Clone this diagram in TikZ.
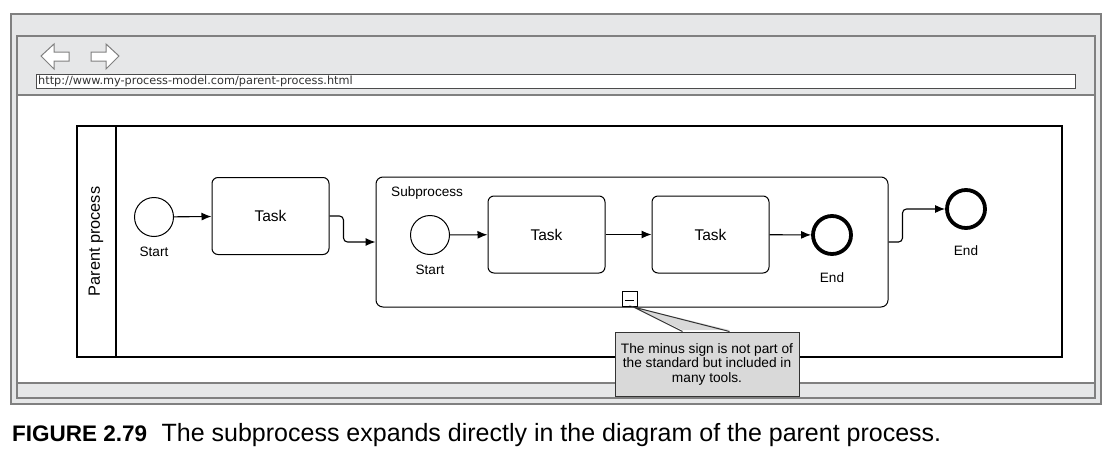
\documentclass[tikz,border=0pt]{standalone}
\usepackage{fontspec}
\setmainfont{Liberation Sans}
\newfontfamily\urlfont{DejaVu Sans}
\usetikzlibrary{positioning,arrows.meta}
\tikzset{
  >={Latex},
  flow/.style    ={line width=1.1pt, -{Latex[length=10pt,width=8pt]}, rounded corners=4pt},
  startev/.style ={circle, draw, line width=1pt, minimum size=39pt, inner sep=0pt},
  endev/.style   ={circle, draw, line width=3.8pt, minimum size=38pt, inner sep=0pt},
  taskbox/.style ={rectangle, draw, rounded corners=6pt, line width=1pt,
                   minimum width=117pt, minimum height=77pt, font=\fontsize{15.5}{17}\selectfont},
  subbox/.style  ={rectangle, draw, rounded corners=7pt, line width=1pt,
                   minimum width=512pt, minimum height=130pt},
  lbl/.style     ={font=\fontsize{13.6}{15}\selectfont, inner sep=0pt},
  frame/.style   ={draw=framegray, line width=1.4pt},
}
\definecolor{framegray}{RGB}{128,128,128}
\definecolor{bar}{RGB}{230,231,232}
\definecolor{notefill}{RGB}{217,217,217}

\begin{document}
\begin{tikzpicture}[x=1pt,y=-1pt]
  \useasboundingbox (0,0) rectangle (1115,455);

  % browser window
  \fill[bar] (11,14) rectangle (1101,404);
  \draw[frame] (11,14) rectangle (1101,404);
  \fill[white] (17,95) rectangle (1095,383);
  \draw[frame] (17,36) rectangle (1095,398);
  \draw[frame] (17,95) -- (1095,95);
  \draw[frame] (17,383) -- (1095,383);
  \draw[framegray, fill=white, line width=1pt]
    (41,56) -- (54,44) -- (54,52) -- (69,52) -- (69,61) -- (54,61) -- (54,69) -- cycle;
  \draw[framegray, fill=white, line width=1pt]
    (119,56) -- (106,44) -- (106,52) -- (91,52) -- (91,61) -- (106,61) -- (106,69) -- cycle;
  \draw[fill=white, draw=black!70, line width=0.9pt] (36,74) rectangle (1075,88);
  \node[anchor=west, inner sep=0pt, font=\urlfont\fontsize{11.3}{12}\selectfont, text=black!80]
    (url) at (38,81) {http://www.my-process-model.com/parent-process.html};

  % pool
  \draw[line width=1.1pt] (77,126) rectangle (1062,357);
  \draw[line width=1.1pt] (116,126) -- (116,357);
  \node[rotate=90, font=\fontsize{16.3}{18}\selectfont] (pooltitle) at (96,241.5) {Parent process};

  % parent flow
  \node[startev] (start) at (154,217) {};
  \node[lbl] (startlbl) at (154,252) {Start};
  \node[taskbox] (task) at (270.5,216) {Task};
  \node[subbox] (sub) at (632,242) {};
  \node[lbl, anchor=west] (sublbl) at (391,193) {Subprocess};
  \node[endev] (end) at (966,209) {};
  \node[lbl] (endlbl) at (966,251) {End};

  % subprocess content
  \node[startev] (substart) at (430,235) {};
  \node[lbl] (substartlbl) at (430,270) {Start};
  \node[taskbox] (subtaska) at (546.5,234.5) {Task};
  \node[taskbox] (subtaskb) at (710.5,234.5) {Task};
  \node[endev] (subend) at (832,235) {};
  \node[lbl] (subendlbl) at (832,278) {End};

  \draw[flow] (start) -- (task);
  \draw[flow] (task.east) -- ++(14,0) |- (sub.west);
  \draw[flow] (substart) -- (subtaska);
  \draw[flow] (subtaska) -- (subtaskb);
  \draw[flow] (subtaskb) -- (subend);
  \draw[flow] (sub.east) -- ++(14,0) |- (end.west);

  % minus marker and note
  \node[draw, fill=white, line width=0.9pt, minimum size=15pt, inner sep=0pt, anchor=south]
    (minus) at (629.5,307) {};
  \draw[line width=1pt] ([xshift=3pt,yshift=-1pt]minus.west) -- ([xshift=-3pt,yshift=-1pt]minus.east);
  \node[draw=black!80, fill=notefill, line width=1pt, minimum width=184pt, minimum height=64pt,
        align=center, font=\fontsize{13.7}{14.5}\selectfont]
    (note) at (707,364) {The minus sign is not part of\\the standard but included in\\many tools.};
  \fill[notefill] ([xshift=68pt,yshift=1.5pt]note.north west) -- ([xshift=-4pt]minus.south east)
    -- ([xshift=115pt,yshift=1.5pt]note.north west) -- cycle;
  \draw[black!80, line width=1pt] ([xshift=68pt]note.north west) -- ([xshift=-4pt]minus.south east)
    -- ([xshift=115pt]note.north west);

  % caption
  \node[anchor=base west, inner sep=0pt, font=\fontsize{25}{28}\selectfont] (caption) at (12,441)
    {\fontsize{22.5}{28}\selectfont\textbf{FIGURE 2.79}\fontsize{25}{28}\selectfont\hspace{0.3em} The subprocess expands directly in the diagram of the parent process.};
\end{tikzpicture}
\end{document}
